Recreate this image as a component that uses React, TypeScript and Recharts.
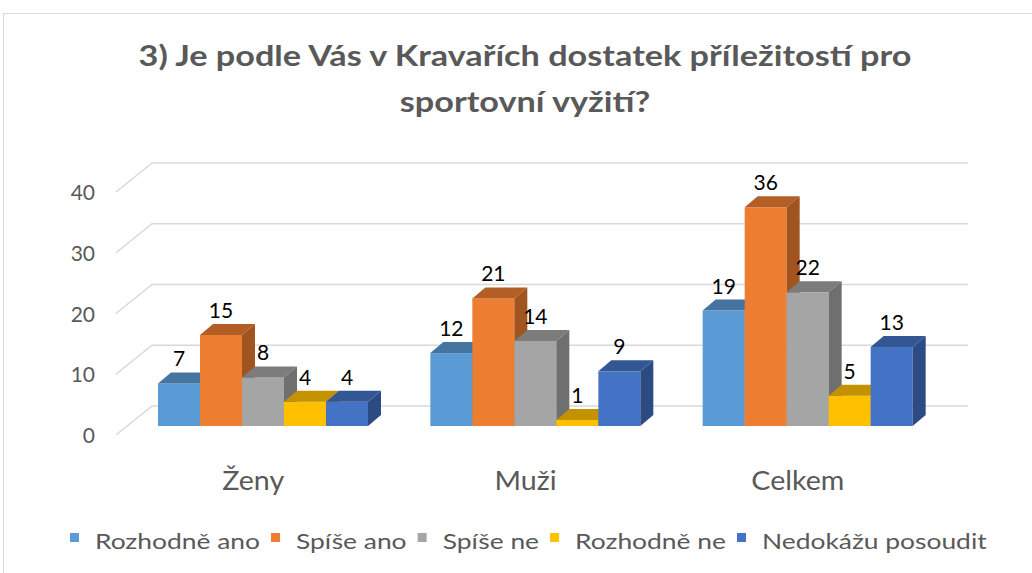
import React from 'react';
import { BarChart, Bar, XAxis, YAxis, CartesianGrid, LabelList } from 'recharts';

const categories = ['Ženy', 'Muži', 'Celkem'];
const rozhodneAno = [7, 12, 19];
const spiseAno = [15, 21, 36];
const spiseNe = [8, 14, 22];
const rozhodneNe = [4, 1, 5];
const nedokazuPosoudit = [4, 9, 13];
const seriesNames = ['Rozhodně ano', 'Spíše ano', 'Spíše ne', 'Rozhodně ne', 'Nedokážu posoudit'];
const yTicks = [0, 10, 20, 30, 40];
const titleLines = ['3) Je podle Vás v Kravařích dostatek příležitostí pro', 'sportovní vyžití?'];

const seriesValues = [rozhodneAno, spiseAno, spiseNe, rozhodneNe, nedokazuPosoudit];
const data = categories.map((name, i) => {
  const row: Record<string, string | number> = { name };
  seriesValues.forEach((vals, s) => {
    row['s' + s] = vals[i];
  });
  return row;
});

const colors = [
  { front: '#5B9BD5', top: '#44749F', side: '#3F6C95' },
  { front: '#ED7D31', top: '#B35E24', side: '#A25420' },
  { front: '#A5A5A5', top: '#7C7C7C', side: '#6F6F6F' },
  { front: '#FFC000', top: '#C29200', side: '#B08400' },
  { front: '#4472C4', top: '#335694', side: '#2C4B84' },
];

const FONT = 'Lato, "Open Sans", sans-serif';
const TEXT = '#595959';
const DX = 13;
const DY = 11;
// the original text is drawn wider than the fonts we have
const TITLE_SX = 1.18;
const LEGEND_SX = 1.2;
const CAT_SX = 1.1;

function Bar3D(props: any) {
  const { x, y, width, height, c } = props;
  if (width == null || height == null) return null;
  const r = x + width;
  const b = y + height;
  return (
    <g>
      <rect x={x} y={y} width={width} height={height} fill={c.front} />
      <polygon points={`${x},${y} ${x + DX},${y - DY} ${r + DX},${y - DY} ${r},${y}`} fill={c.top} />
      <polygon points={`${r},${y} ${r + DX},${y - DY} ${r + DX},${b - DY} ${r},${b}`} fill={c.side} />
    </g>
  );
}

function renderValue(props: any) {
  const { x, y, width, value } = props;
  return (
    <text x={x + width / 2} y={y - 17} textAnchor="middle" fontFamily={FONT} fontSize={21} fill="#000">
      {value}
    </text>
  );
}

function gridLine(p: any) {
  const { x1, x2, y1, index } = p;
  return (
    <polyline
      key={'g' + index}
      points={`${x1 - 11},${y1 + 9} ${x1 + 25},${y1 - 20} ${x2 + 24},${y1 - 20}`}
      fill="none"
      stroke="#d9d9d9"
      strokeWidth={1.5}
    />
  );
}

function YTick(props: any) {
  const { x, y, payload } = props;
  return (
    <text x={x} y={y + 17} textAnchor="end" fontFamily={FONT} fontSize={21} fill={TEXT}>
      {payload.value}
    </text>
  );
}

function XTick(props: any) {
  const { x, y, payload } = props;
  return (
    <text
      transform={`translate(${x - 10},${y + 62}) scale(${CAT_SX},1)`}
      textAnchor="middle"
      fontFamily={FONT}
      fontSize={26}
      fill={TEXT}
    >
      {payload.value}
    </text>
  );
}

function measure(text: string, font: string) {
  const cv = document.createElement('canvas');
  const ctx = cv.getContext('2d');
  if (!ctx) return text.length * 10;
  ctx.font = font;
  return ctx.measureText(text).width;
}

function Legend3D() {
  const size = 22;
  const font = `${size}px ${FONT}`;
  let cx = 70;
  const items = seriesNames.map((n, i) => {
    const w = measure(n, font) * LEGEND_SX;
    const item = (
      <g key={n}>
        <rect x={cx} y={533} width={9} height={9} fill={colors[i].front} />
        <text
          transform={`translate(${cx + 25},549) scale(${LEGEND_SX},1)`}
          fontFamily={FONT}
          fontSize={size}
          fill={TEXT}
        >
          {n}
        </text>
      </g>
    );
    cx += 25 + w + 11;
    return item;
  });
  return <g>{items}</g>;
}

export default function App() {
  return (
    <div style={{ position: 'absolute', left: 0, top: 0, width: 1032, height: 573, overflow: 'hidden', background: '#fff' }}>
      <div
        style={{
          position: 'absolute',
          left: 3,
          top: 13,
          width: 1100,
          height: 700,
          borderTop: '1px solid #d9d9d9',
          borderLeft: '1px solid #d9d9d9',
        }}
      />
      <div style={{ position: 'absolute', left: 0, top: 0 }}>
        <BarChart
          width={1032}
          height={573}
          data={data}
          margin={{ top: 183, right: 88, left: 0, bottom: 107 }}
          barCategoryGap={31}
          barGap={0}
        >
          <CartesianGrid vertical={false} horizontal={gridLine} />
          <XAxis dataKey="name" axisLine={false} tickLine={false} tickSize={0} height={40} tick={<XTick />} interval={0} />
          <YAxis
            domain={[0, 40]}
            ticks={yTicks}
            axisLine={false}
            tickLine={false}
            tickSize={0}
            tickMargin={32}
            width={127}
            tick={<YTick />}
          />
          {seriesNames.map((n, i) => (
            <Bar
              key={n}
              dataKey={'s' + i}
              name={n}
              isAnimationActive={false}
              shape={(p: any) => <Bar3D {...p} c={colors[i]} />}
            >
              <LabelList dataKey={'s' + i} content={renderValue} />
            </Bar>
          ))}
        </BarChart>
      </div>
      <svg width={1032} height={573} style={{ position: 'absolute', left: 0, top: 0, pointerEvents: 'none' }}>
        {titleLines.map((t, i) => (
          <text
            key={i}
            transform={`translate(525,${66 + i * 46}) scale(${TITLE_SX},1)`}
            textAnchor="middle"
            fontFamily={FONT}
            fontWeight="bold"
            fontSize={29}
            fill={TEXT}
          >
            {t}
          </text>
        ))}
        <Legend3D />
      </svg>
    </div>
  );
}
